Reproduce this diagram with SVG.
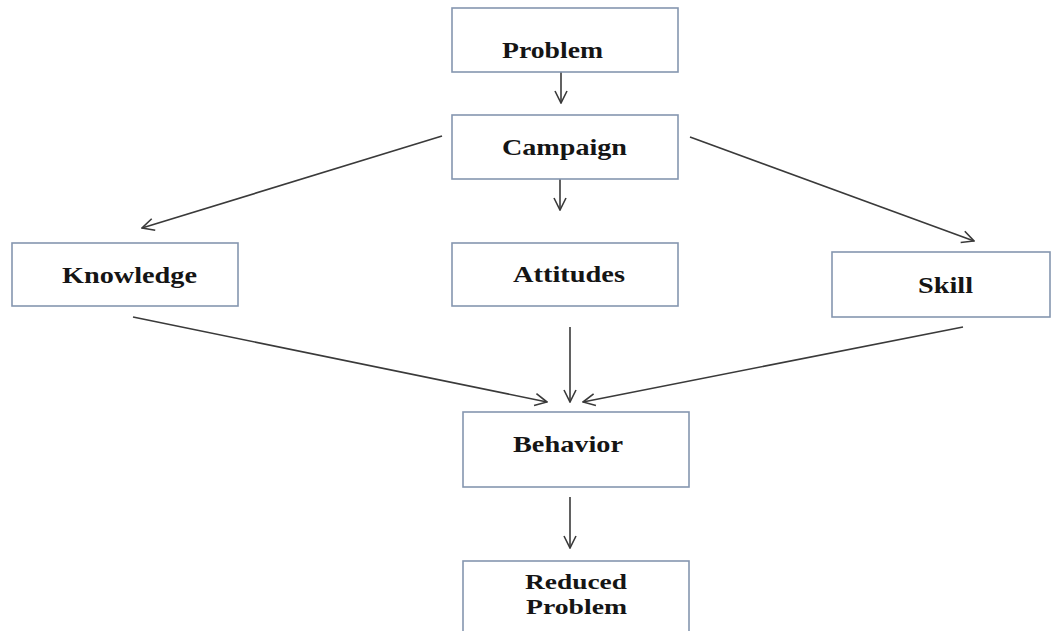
<svg xmlns="http://www.w3.org/2000/svg" width="1053" height="631" viewBox="0 0 1053 631">
  <style>
    .box { fill: #ffffff; stroke: #8596b0; stroke-width: 1.6; }
    .lbl { font-family: "Liberation Serif", "Times New Roman", serif; font-weight: bold; font-size: 24px; fill: #151515; }
    .lbl.sm { font-size: 22px; }
    .edge { fill: none; stroke: #3a3a3a; stroke-width: 1.6; marker-end: url(#arrow); }
  </style>
  <defs>
    <marker id="arrow" viewBox="0 0 14 14" refX="13" refY="7" markerWidth="14" markerHeight="14" markerUnits="userSpaceOnUse" orient="auto">
      <path d="M1,1 L13,7 L1,13" fill="none" stroke="#3a3a3a" stroke-width="1.6"/>
    </marker>
  </defs>
  <rect width="1053" height="631" fill="#ffffff"/>

  <g id="connectors">
    <line class="edge" x1="561" y1="72" x2="561" y2="103"/>
    <line class="edge" x1="560" y1="168" x2="560" y2="210"/>
    <line class="edge" x1="442" y1="136" x2="142" y2="228"/>
    <line class="edge" x1="690" y1="137" x2="974" y2="241"/>
    <line class="edge" x1="133" y1="317" x2="547" y2="402"/>
    <line class="edge" x1="570" y1="327" x2="570" y2="402"/>
    <line class="edge" x1="963" y1="327" x2="583" y2="402"/>
    <line class="edge" x1="570" y1="497" x2="570" y2="548"/>
  </g>

  <g id="problem">
    <rect class="box" x="452" y="8" width="226" height="64"/>
    <text class="lbl" x="502" y="58" textLength="101" lengthAdjust="spacingAndGlyphs">Problem</text>
  </g>
  <g id="campaign">
    <rect class="box" x="452" y="115" width="226" height="64"/>
    <text class="lbl" x="502" y="155" textLength="125" lengthAdjust="spacingAndGlyphs">Campaign</text>
  </g>
  <g id="knowledge">
    <rect class="box" x="12" y="243" width="226" height="63"/>
    <text class="lbl" x="62" y="283" textLength="135" lengthAdjust="spacingAndGlyphs">Knowledge</text>
  </g>
  <g id="attitudes">
    <rect class="box" x="452" y="243" width="226" height="63"/>
    <text class="lbl" x="513" y="282" textLength="112" lengthAdjust="spacingAndGlyphs">Attitudes</text>
  </g>
  <g id="skill">
    <rect class="box" x="832" y="252" width="218" height="65"/>
    <text class="lbl" x="918" y="293" textLength="55" lengthAdjust="spacingAndGlyphs">Skill</text>
  </g>
  <g id="behavior">
    <rect class="box" x="463" y="412" width="226" height="75"/>
    <text class="lbl" x="513" y="452" textLength="110" lengthAdjust="spacingAndGlyphs">Behavior</text>
  </g>
  <g id="reduced-problem">
    <rect class="box" x="463" y="561" width="226" height="80"/>
    <text class="lbl sm" x="525" y="589" textLength="102" lengthAdjust="spacingAndGlyphs">Reduced</text>
    <text class="lbl sm" x="526" y="614" textLength="101" lengthAdjust="spacingAndGlyphs">Problem</text>
  </g>
</svg>
